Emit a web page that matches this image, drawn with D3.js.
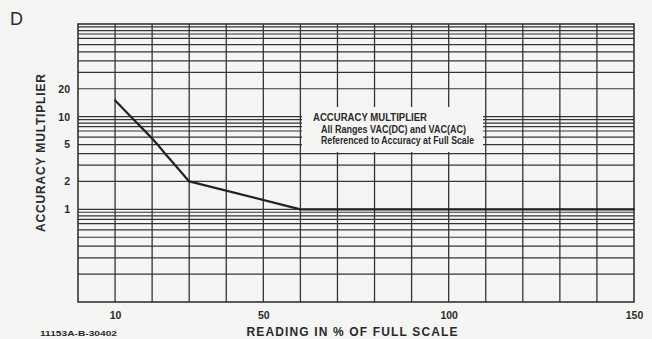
<!DOCTYPE html>
<html>
<head>
<meta charset="utf-8">
<script src="https://cdn.jsdelivr.net/npm/d3@7/dist/d3.min.js"></script>
<style>
  body { margin: 0; background: #f5f5f3; }
  svg { display: block; }
  text { fill: #2a2a2a; font-family: "Liberation Sans", Arial, sans-serif; }
</style>
</head>
<body>
<svg id="chart" width="652" height="339"></svg>
<script>
// Reading in % of full scale vs accuracy multiplier
const readings = [10, 15, 20, 25, 30, 60, 150];
const multipliers = [15, 9.3, 5.8, 3.4, 2, 1, 1];

// tick labels
const xTickLabels = [10, 50, 100, 150];
const yTickLabels = [1, 2, 5, 10, 20];

// grid of the graph paper
const xGridValues = [10, 20, 30, 40, 50, 60, 70, 80, 90, 100, 110, 120, 130, 140];
const yGridValues = [
  0.2, 0.3, 0.4, 0.5, 0.6, 0.7, 0.78, 0.85, 0.93,
  1, 2, 3, 4, 5, 6, 7, 7.8, 8.5, 9.3,
  10, 20, 30, 40, 50, 60, 70, 78, 85, 93
];

const noteLines = [
  "ACCURACY MULTIPLIER",
  "All Ranges VAC(DC) and VAC(AC)",
  "Referenced to Accuracy at Full Scale"
];

const svg = d3.select("#chart");
const margin = { top: 24, right: 18, bottom: 37, left: 78 };
const width = +svg.attr("width"),
  height = +svg.attr("height");
const lineColor = "#353535";

const x = d3
  .scaleLinear()
  .domain([0, 150])
  .range([margin.left, width - margin.right]);

const y = d3
  .scaleLog()
  .domain([0.1, 100])
  .range([height - margin.bottom, margin.top]);

// horizontal grid lines
svg
  .append("g")
  .selectAll("line")
  .data(yGridValues)
  .enter()
  .append("line")
  .attr("x1", x(0))
  .attr("x2", x(150))
  .attr("y1", (d) => y(d))
  .attr("y2", (d) => y(d))
  .attr("stroke", lineColor)
  .attr("stroke-width", 1.2);

// vertical grid lines
svg
  .append("g")
  .selectAll("line")
  .data(xGridValues)
  .enter()
  .append("line")
  .attr("x1", (d) => x(d))
  .attr("x2", (d) => x(d))
  .attr("y1", y(100))
  .attr("y2", y(0.1))
  .attr("stroke", lineColor)
  .attr("stroke-width", 1.3);

// frame
svg
  .append("rect")
  .attr("x", x(0))
  .attr("y", y(100))
  .attr("width", x(150) - x(0))
  .attr("height", y(0.1) - y(100))
  .attr("fill", "none")
  .attr("stroke", lineColor)
  .attr("stroke-width", 1.6);

// blank patch behind the note
svg
  .append("rect")
  .attr("x", 302)
  .attr("y", 107)
  .attr("width", 181)
  .attr("height", 45)
  .attr("fill", "#f5f5f3");

// note text
const noteX = [313, 321, 321];
const noteY = [121, 132.5, 144];
const noteW = [114, 145, 153];
svg
  .append("g")
  .selectAll("text")
  .data(noteLines)
  .enter()
  .append("text")
  .attr("x", (d, i) => noteX[i])
  .attr("y", (d, i) => noteY[i])
  .attr("textLength", (d, i) => noteW[i])
  .attr("lengthAdjust", "spacingAndGlyphs")
  .style("font-size", "10px")
  .style("font-weight", "bold")
  .text((d) => d);

// data curve: smooth fall to 30 %, then straight runs
const points = readings.map((r, i) => ({ r: r, m: multipliers[i] }));
const bend = readings.indexOf(30);

const curved = d3
  .line()
  .x((d) => x(d.r))
  .y((d) => y(d.m))
  .curve(d3.curveMonotoneX);

const straight = d3
  .line()
  .x((d) => x(d.r))
  .y((d) => y(d.m));

svg
  .append("path")
  .datum(points.slice(0, bend + 1))
  .attr("fill", "none")
  .attr("stroke", "#222")
  .attr("stroke-width", 2.2)
  .attr("stroke-linecap", "round")
  .attr("d", curved);

svg
  .append("path")
  .datum(points.slice(bend))
  .attr("fill", "none")
  .attr("stroke", "#222")
  .attr("stroke-width", 2.2)
  .attr("stroke-linecap", "round")
  .attr("stroke-linejoin", "round")
  .attr("d", straight);

// axes (labels only)
const xAxis = svg
  .append("g")
  .attr("transform", `translate(0,${y(0.1)})`)
  .call(d3.axisBottom(x).tickValues(xTickLabels).tickSize(0).tickPadding(10));
xAxis.select(".domain").remove();
xAxis
  .selectAll("text")
  .attr("fill", "#2a2a2a")
  .style("font-family", "Liberation Sans, Arial, sans-serif")
  .style("font-size", "10.5px")
  .style("font-weight", "bold");

const yAxis = svg
  .append("g")
  .attr("transform", `translate(${x(0)},0)`)
  .call(
    d3.axisLeft(y).tickValues(yTickLabels).tickFormat(d3.format("d")).tickSize(0).tickPadding(8)
  );
yAxis.select(".domain").remove();
yAxis
  .selectAll("text")
  .attr("fill", "#2a2a2a")
  .style("font-family", "Liberation Sans, Arial, sans-serif")
  .style("font-size", "10.5px")
  .style("font-weight", "bold");

// axis titles
svg
  .append("text")
  .attr("x", 352)
  .attr("y", 335.5)
  .attr("text-anchor", "middle")
  .attr("textLength", 211)
  .attr("lengthAdjust", "spacing")
  .style("font-size", "12px")
  .style("font-weight", "bold")
  .text("READING IN % OF FULL SCALE");

svg
  .append("text")
  .attr("transform", "translate(45,153) rotate(-90)")
  .attr("text-anchor", "middle")
  .attr("textLength", 158)
  .attr("lengthAdjust", "spacing")
  .style("font-size", "12px")
  .style("font-weight", "bold")
  .text("ACCURACY MULTIPLIER");

// panel letter and drawing number
svg
  .append("text")
  .attr("x", 10)
  .attr("y", 25)
  .style("font-size", "18px")
  .text("D");

svg
  .append("text")
  .attr("x", 40)
  .attr("y", 335.5)
  .attr("textLength", 77)
  .attr("lengthAdjust", "spacingAndGlyphs")
  .style("font-size", "8px")
  .style("font-weight", "bold")
  .text("11153A-B-30402");
</script>
</body>
</html>
